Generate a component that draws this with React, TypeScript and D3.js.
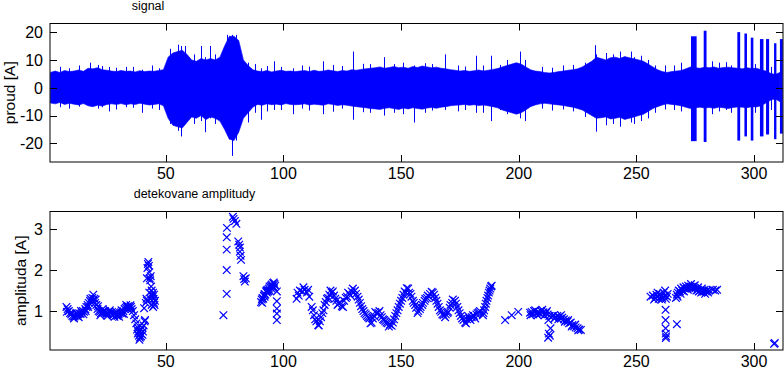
import React, { useRef, useEffect } from "react";
import * as d3 from "d3";

// ---------------------------------------------------------------------------
// DATA
// ---------------------------------------------------------------------------

// signal envelope, sampled every 2 s from t = 1 to t = 311
const sigStart = 1;
const sigStep = 2;
const sigHi = [
  5.5, 6, 5.5, 6.2, 5.8, 6, 6.4, 5.9,
  7, 6.8, 7.2, 6.5, 6.3,
  6, 5.8, 6.2, 5.9, 6, 5.7, 6.1, 5.8, 6, 5.9, 6.2, 6.5,
  11, 12.5, 13, 13.5, 12,
  10, 9.5, 10.5, 10, 10.5, 10, 11,
  15, 18.5, 18.5, 17,
  10, 8, 6.5,
  6, 5.8, 6.2, 5.7, 6, 6.3, 5.9, 6, 5.8,
  6, 6.2, 5.8, 6.3, 5.9, 6, 6.4, 6.1, 5.8, 6.2, 6, 6.5, 6.3, 6.6, 6.8, 7,
  7.2, 7.5, 7, 7.3, 7.6, 7.2, 7.4, 7, 7.6, 7.3, 7.8, 7.5, 7.2, 7.4, 7, 6.8, 6.5,
  6.3, 6, 6.2, 5.9, 6.1, 6.4, 6, 6.3, 6.6, 6.9, 7.5, 8, 8.5,
  9, 8.5, 7.5, 6.5,
  6, 5.8, 5.5, 5.3, 5.5,
  5.8, 6, 6.3, 6.5, 6.8,
  7.5, 8.5, 9.5,
  11, 10.5, 10, 10.8, 11, 10.5, 11.2, 10.8, 10.4, 10, 9.5,
  8.5, 7.5, 6.5, 5.8, 5.5,
  5.8, 6, 6.2, 6.8,
  7.5, 7.2, 7, 7.4, 7.2, 7.5, 7, 7.3, 7.4, 7.2, 7, 6.8, 7.2, 6.9, 7, 6.5, 6, 5.2, 4.8, 5.5,
];
const sigLo = [
  -5.5, -5.8, -5.3, -6, -5.6, -5.9, -6.2, -5.7,
  -6.5, -6.8, -6.3, -6.6, -6,
  -5.8, -6, -5.7, -6.1, -5.8, -6, -5.6, -5.9, -6.2, -6, -5.8, -6.5,
  -11, -13.5, -14, -14.5, -12.5,
  -10.5, -11, -10, -11.5, -10.5, -11, -12,
  -15, -18.5, -19, -16,
  -11, -9, -7,
  -6, -6.3, -5.8, -6.1, -5.9, -6.2, -5.7, -6, -6.1,
  -6, -5.8, -6.2, -5.9, -6.1, -6.3, -5.8, -6, -6.4, -6.1, -6.3, -6.6, -6.8, -7, -7.2, -7.5,
  -7.6, -7.8, -7.4, -7.2, -7.5, -7.8, -7.3, -7.6, -7.2, -7.5, -7.7, -7.3, -7.1, -7.4, -7, -6.8, -6.5,
  -6.3, -6.2, -6, -6.3, -6.1, -6.4, -6.2, -6.5, -6.8, -7.2, -8, -8.5, -9,
  -9.5, -9, -8, -6.8,
  -6.2, -5.8, -5.6, -5.8, -6,
  -6.2, -6.4, -6.7, -7, -7.5,
  -8, -9, -10,
  -11, -10.8, -10.5, -11.2, -11, -10.6, -11.4, -11, -10.5, -10, -9.5,
  -8.5, -7.5, -6.8, -6.2, -5.8,
  -6, -6.2, -6.5, -7,
  -7.5, -7.2, -7, -7.3, -7.1, -7.4, -7, -7.2, -7.5, -7.1, -6.9, -7, -7.2, -6.8, -6.9, -6.5, -5.5, -4.5, -4, -5,
];

// single spikes sticking out of the band: [t, max, min]
const spikes: [number, number, number][] = [
  [18, 9, -6.5], [26, 7.5, -8.5], [33, 7.5, -7], [40, 6.5, -9], [44, 8, -7.5],
  [52, 14, -13], [55, 15.5, -15.5], [56.3, 15, -17.5], [58, 15, -13],
  [62, 12, -13], [65, 15, -12], [66.5, 11, -16], [69, 15, -11], [71, 12, -13],
  [76, 19, -17], [78.3, 19, -24.5], [80, 19, -19], [85, 9, -12.5],
  [90.6, 7, -11.5], [96, 9.5, -8], [104, 7, -9.5], [117, 9.5, -9.5],
  [129.7, 13, -11.5], [142.9, 11, -10], [147, 8.5, -9], [155.6, 8, -12.5],
  [168.8, 12, -8], [181.7, 11.5, -9], [188.2, 11.5, -12], [195, 10, -9.5],
  [200.5, 13, -11], [202.7, 10, -12], [232.5, 15.3, -10], [233, 12, -15.8],
  [240, 12, -13], [247.6, 13, -12.5], [249, 11, -13], [258, 8, -9],
  [266, 8, -8], [285, 9, -8.5], [290, 8, -9],
];

// smaller fuzz lines along the edge of the band: [t, max, min]
const fuzz: [number, number, number][] = [
  [5, 7.5, -7], [9, 7, -7.5], [13, 8, -6.8], [21, 8.2, -7.5], [23, 7.8, -7],
  [29, 7.2, -7.8], [36, 7.5, -7.2], [47, 7, -8], [88, 8.5, -9], [93, 7.8, -8.5],
  [99, 7.5, -8], [108, 8, -7.5], [111, 7.6, -8.2], [121, 8.2, -8.6], [125, 7.8, -7.5],
  [134, 8.6, -8.8], [137, 8.5, -9], [151, 9, -9.5], [160, 8.8, -9], [163, 8.5, -8.2],
  [174, 8, -8.5], [177, 7.6, -8], [185, 8, -9], [192, 8.2, -8], [210, 7.5, -7.5],
  [214, 7.2, -8.2], [219, 8, -7.8], [223, 8.2, -8.5], [228, 9, -10.5], [237, 12.5, -13.5],
  [243, 13, -14], [252, 11.5, -12], [255, 10, -11], [262, 8, -7.8], [269, 9, -8.5],
  [282, 9.5, -9.5], [288, 9.2, -8], [300.5, 8.5, -9], [307, 7.5, -8],
];

// bursts at the end of the record: [t start, t end, max, min]
const bursts: [number, number, number, number][] = [
  [273.2, 275.6, 18.5, -19.2],
  [278.6, 279.8, 20.5, -19.5],
  [292.9, 294.1, 20, -19],
  [295.9, 297.0, 19.5, -17.5],
  [298.6, 299.7, 18, -19],
  [302.5, 304.0, 17.5, -17.5],
  [305.1, 306.4, 17.5, -16.8],
  [308.5, 309.5, 16, -18.5],
  [311.0, 312.2, 17.5, -16.5],
];

// detected amplitudes: [t, amplitude]
const ampStart: [number, number][] = [
  [7.8, 1.1], [8.3, 1.05], [8.8, 1.0], [9.3, 0.95], [9.8, 0.92], [10.3, 0.88], [10.8, 0.86],
  [11.3, 0.87], [11.8, 0.9], [12.3, 0.88], [12.8, 0.92], [13.3, 0.94], [13.8, 0.93], [14.3, 0.96],
  [14.8, 1.0], [15.3, 0.98], [15.8, 1.05], [16.3, 1.1], [16.8, 1.15], [17.3, 1.2], [17.8, 1.25],
  [18.3, 1.22], [18.8, 1.32], [19.2, 1.4], [19.6, 1.3], [20.0, 1.2], [20.5, 1.15], [21.0, 1.05],
  [21.5, 1.0], [22, 0.98], [22.5, 0.95], [23, 0.97], [23.5, 1.0], [24, 0.95], [24.5, 0.92],
  [25, 0.96], [25.5, 0.94], [26, 0.98], [26.5, 0.95], [27, 0.92], [27.5, 0.9], [28, 0.93],
  [28.5, 0.95], [29, 0.9], [29.5, 0.88], [30, 0.92], [30.5, 0.95], [31, 0.97], [31.5, 0.94],
  [32, 1.0], [32.5, 1.05], [33, 1.08], [33.5, 1.1], [34, 1.12], [34.5, 1.1], [35, 1.14],
  [35.5, 1.05], [36, 1.0], [36.5, 0.9], [37, 0.8], [37.5, 0.7], [38, 0.6], [38.3, 0.5],
  [38.6, 0.4], [39, 0.35], [39.3, 0.45], [39.6, 0.55], [40, 0.6], [40.3, 0.5], [40.6, 0.65], [41, 0.75],
  [8, 0.98], [10, 0.95], [11, 0.82], [12, 0.95], [13, 0.85], [14, 1.0], [15, 0.92], [16, 1.0],
  [17, 1.1], [18, 1.3], [19, 1.25], [20.2, 1.28], [21.2, 1.12], [22.2, 0.9], [23.2, 1.05],
  [24.2, 1.0], [25.2, 0.88], [26.2, 1.02], [27.2, 0.98], [28.2, 0.86], [29.2, 0.97], [30.2, 0.86],
  [31.2, 1.02], [32.2, 0.93], [33.2, 1.15], [34.2, 1.05], [35.2, 1.1], [38.1, 0.45], [38.8, 0.3],
  [39.5, 0.38], [40.1, 0.42], [37.8, 0.55], [39, 0.52],
  [40.8, 1.07], [41.2, 0.78], [41.5, 1.2], [41.8, 1.3], [42, 1.8], [42.2, 2.05], [42.4, 2.15],
  [42.6, 2.2], [42.8, 2.1], [43, 1.95], [43.2, 1.8], [43.4, 1.75], [43.6, 1.85], [43.8, 1.6],
  [44, 1.5], [44.2, 1.4], [44.4, 1.35], [44.6, 1.45], [44.8, 1.3], [45, 1.2], [45.2, 1.15],
  [42, 1.25], [43, 1.45], [43.5, 1.3], [44, 1.15], [45, 1.4], [45.4, 1.25], [44.6, 1.1],
];

const ampPeak: [number, number][] = [
  [74.5, 0.9], [75.9, 1.42], [75.9, 2.0], [75.9, 2.5], [75.9, 2.8], [76, 3.03],
  [78.5, 3.3], [78.8, 3.25], [79.4, 3.2], [80, 3.13], [80.8, 2.7], [81.2, 2.62],
  [81.5, 2.55], [81.5, 2.45], [81.8, 2.35], [82, 2.25], [83, 1.85], [83.3, 1.78],
  [83.6, 1.72], [84, 1.8],
  [90.5, 1.22], [90.8, 1.28], [91.1, 1.32], [91.4, 1.3], [91.7, 1.38], [92, 1.42], [92.3, 1.4],
  [92.6, 1.48], [92.9, 1.5], [93.2, 1.52], [93.5, 1.48], [93.8, 1.55], [94.1, 1.6], [94.4, 1.58],
  [94.7, 1.62], [95, 1.65], [95.3, 1.6], [95.6, 1.68], [95.9, 1.7], [96.2, 1.66], [96.5, 1.62],
  [91, 1.2], [92, 1.35], [93, 1.45], [94, 1.5], [95, 1.55], [96, 1.58],
  [97.2, 1.48], [97.2, 1.24], [97.2, 1.06], [97.2, 0.94], [97.2, 0.78],
];

const ampWave: [number, number][] = [
  [105.6, 1.3], [106, 1.45], [107, 1.5], [108, 1.48], [109, 1.52], [110, 1.45], [111, 1.35],
  [112, 1.1], [113, 0.9], [114, 0.75], [114.8, 0.66], [115.5, 0.75], [116.5, 0.95], [117.5, 1.15],
  [118.5, 1.3], [119.5, 1.4], [120.5, 1.45], [121.5, 1.38], [122.5, 1.25], [123.5, 1.18],
  [124.8, 1.12], [125.8, 1.25], [127, 1.35], [128, 1.42], [129, 1.48], [130.4, 1.5], [131.5, 1.35],
  [132.5, 1.2], [133.5, 1.05], [134.5, 0.95], [135.5, 0.88], [136.5, 0.82], [137.5, 0.72],
  [138.5, 0.88], [139.5, 0.95], [140.3, 0.96], [141.3, 0.9], [142.3, 0.8], [143.3, 0.75],
  [144.3, 0.7], [145.2, 0.67], [146, 0.64], [147, 0.8], [148, 0.95], [149, 1.1], [150, 1.25],
  [151, 1.4], [152.4, 1.56], [153.4, 1.45], [154.4, 1.35], [155.4, 1.2], [156.4, 1.08],
  [157.3, 1.0], [158.3, 1.1], [159.3, 1.2], [160.3, 1.3], [161.3, 1.38], [162.3, 1.42],
  [163, 1.47], [164, 1.4], [165, 1.25], [166, 1.1], [167, 0.98], [168, 0.9], [168.7, 0.85],
  [169.7, 0.95], [170.7, 1.08], [171.7, 1.2], [172.9, 1.25], [173.9, 1.1], [174.9, 0.95],
  [175.9, 0.82], [177.2, 0.72], [178, 0.8], [179, 0.82], [180, 0.85], [181, 0.88], [182, 0.92],
  [183, 0.97], [183.5, 1.0],
  [185, 0.95], [185.7, 1.1], [186.3, 1.25], [187, 1.38], [187.6, 1.5], [188.2, 1.6], [188.5, 1.62],
  [106.5, 1.38], [108.5, 1.58], [110.5, 1.52], [112.5, 1.02], [113.5, 0.8], [115, 0.65],
  [116, 0.85], [117, 1.02], [118, 1.22], [119, 1.32], [120, 1.5], [121, 1.48], [122, 1.3],
  [123, 1.15], [124, 1.22], [125.3, 1.1], [126.5, 1.32], [127.5, 1.45], [128.5, 1.38],
  [129.5, 1.55], [130.8, 1.42], [132, 1.28], [133, 1.12], [134, 1.0], [135, 0.92], [136, 0.85],
  [137, 0.7], [138, 0.82], [139, 0.98], [140.8, 1.0], [141.8, 0.85], [142.8, 0.78], [143.8, 0.72],
  [144.8, 0.62], [146.5, 0.72], [147.5, 0.88], [148.5, 1.02], [149.5, 1.18], [150.5, 1.32],
  [151.5, 1.48], [152, 1.45], [153, 1.55], [154, 1.42], [155, 1.25], [156, 1.15], [157, 0.95],
  [158, 1.05], [159, 1.15], [160, 1.25], [161, 1.32], [162, 1.35], [163.5, 1.45], [164.5, 1.32],
  [165.5, 1.18], [166.5, 1.02], [167.5, 0.92], [169, 0.92], [170, 0.98], [171, 1.15], [172, 1.28],
  [173.3, 1.18], [174.4, 1.02], [175.4, 0.88], [176.5, 0.78], [177.6, 0.7], [178.5, 0.88],
  [179.5, 0.78], [180.5, 0.9], [181.5, 0.82], [182.5, 0.95], [184.8, 0.9], [185.3, 1.02],
  [186, 1.18], [186.7, 1.32], [187.3, 1.45], [187.9, 1.55],
  [194.2, 0.78], [197, 0.9], [199.8, 0.98],
];

const ampLate: [number, number][] = [
  [204.8, 0.96], [205.5, 0.98], [206.5, 1.0], [207.5, 0.95], [208.5, 0.98], [209.5, 1.0],
  [210.5, 0.97], [211.5, 0.95], [212.3, 0.92], [205, 0.9], [206, 0.92], [207, 1.02], [208, 0.9],
  [209, 0.93], [210, 1.03], [211, 0.9], [212, 1.0], [213, 0.88],
  [212.6, 0.78], [213.5, 0.58], [212.8, 0.45], [212.5, 0.35], [213.2, 0.4],
  [214.3, 0.88], [215, 0.9], [215.7, 0.85], [216.4, 0.88], [217.1, 0.86], [217.8, 0.82],
  [218.5, 0.84], [219.2, 0.8], [220, 0.77], [220.7, 0.74], [221.4, 0.7], [222.1, 0.72],
  [222.8, 0.66], [223.5, 0.63], [224.2, 0.6], [225, 0.58], [225.7, 0.55], [226.4, 0.54],
  [215.2, 0.82], [216.8, 0.8], [218, 0.9], [219.6, 0.74], [221, 0.78], [222.5, 0.62],
  [224, 0.67], [225.3, 0.53],
  [256, 1.35], [257, 1.38], [258, 1.32], [258.5, 1.4], [259, 1.35], [259.5, 1.3], [260, 1.42],
  [260.5, 1.36], [261, 1.32], [261.5, 1.45], [262, 1.38], [262.5, 1.3], [263, 1.35],
  [257.5, 1.28], [259, 1.45], [260.8, 1.28], [262.2, 1.5], [263.3, 1.42],
  [262.4, 1.03], [262.4, 0.78], [262.4, 0.58], [262.5, 0.45], [262.6, 0.38], [262.5, 0.34],
  [267.2, 0.68],
  [266.8, 1.32], [267.2, 1.4], [267.6, 1.45], [268, 1.5], [268.5, 1.48], [269, 1.55],
  [269.5, 1.5], [270, 1.58], [270.5, 1.55], [271, 1.6], [271.5, 1.55], [272, 1.62],
  [272.5, 1.58], [273, 1.6], [273.5, 1.55], [274, 1.6], [274.5, 1.57], [275, 1.55],
  [275.5, 1.5], [276, 1.52], [276.5, 1.48], [277, 1.5], [277.5, 1.45], [278, 1.5],
  [278.5, 1.47], [279, 1.52], [279.5, 1.48], [280, 1.5], [281, 1.5], [282.5, 1.52],
  [283.5, 1.5], [284.3, 1.52], [267.5, 1.35], [268.8, 1.42], [270.2, 1.48], [271.8, 1.52],
  [273.2, 1.66], [274.8, 1.63], [276.2, 1.58], [277.8, 1.55], [279.2, 1.42], [280.5, 1.45],
  [308.5, 0.2], [308.8, 0.22],
];

const xTicks = [50, 100, 150, 200, 250, 300];
const sigTicks = [-20, -10, 0, 10, 20];
const ampTicks = [1, 2, 3];

// ---------------------------------------------------------------------------

const W = 784;
const H = 369;
const FONT = "'Liberation Sans', Arial, Helvetica, sans-serif";
const BLUE = "#0000ff";

export default function App() {
  const svgRef = useRef<SVGSVGElement | null>(null);

  useEffect(() => {
    const svg = d3.select(svgRef.current);
    svg.selectAll("*").remove();

    const left = 50;
    const right = 783;
    const tickLen = 7;

    const x = d3.scaleLinear().domain([0.8, 312.3]).range([left, right]);

    const drawFrame = (
      g: d3.Selection<SVGGElement, unknown, null, undefined>,
      y: d3.ScaleLinear<number, number>,
      yTicks: number[],
      top: number,
      bottom: number
    ) => {
      const frame = g.append("g").attr("stroke", "#000").attr("stroke-width", 1);
      frame
        .append("rect")
        .attr("x", left)
        .attr("y", top)
        .attr("width", right - left)
        .attr("height", bottom - top)
        .attr("fill", "none");
      xTicks.forEach((t) => {
        const px = Math.round(x(t)) + 0.5;
        frame.append("line").attr("x1", px).attr("x2", px).attr("y1", bottom).attr("y2", bottom - tickLen);
        frame.append("line").attr("x1", px).attr("x2", px).attr("y1", top).attr("y2", top + tickLen);
      });
      yTicks.forEach((t) => {
        const py = Math.round(y(t)) + 0.5;
        frame.append("line").attr("x1", left).attr("x2", left + tickLen).attr("y1", py).attr("y2", py);
        frame.append("line").attr("x1", right).attr("x2", right - tickLen).attr("y1", py).attr("y2", py);
      });
      const labels = g.append("g").attr("font-family", FONT).attr("font-size", 16).attr("fill", "#000");
      xTicks.forEach((t) => {
        labels
          .append("text")
          .attr("x", x(t))
          .attr("y", bottom + 16.5)
          .attr("text-anchor", "middle")
          .text(t);
      });
      yTicks.forEach((t) => {
        labels
          .append("text")
          .attr("x", left - 7)
          .attr("y", y(t))
          .attr("dy", "0.36em")
          .attr("text-anchor", "end")
          .text(t);
      });
    };

    // -------------------------------------------------------------------------
    // TOP: signal
    // -------------------------------------------------------------------------
    const top1 = 23.5;
    const bot1 = 162;
    const y1 = d3.scaleLinear().domain([-26.7, 23.1]).range([bot1, top1]);

    svg
      .append("defs")
      .append("clipPath")
      .attr("id", "clipTop")
      .append("rect")
      .attr("x", left)
      .attr("y", top1)
      .attr("width", right - left)
      .attr("height", bot1 - top1);

    const gTop = svg.append("g");
    const plot1 = gTop.append("g").attr("clip-path", "url(#clipTop)");

    const sigT = sigHi.map((_, i) => sigStart + i * sigStep);
    const area = d3
      .area<number>()
      .x((_, i) => x(sigT[i]))
      .y0((_, i) => y1(sigLo[i]))
      .y1((d) => y1(d));
    plot1.append("path").datum(sigHi).attr("fill", BLUE).attr("stroke", BLUE).attr("stroke-width", 0.6).attr("d", area);

    plot1
      .selectAll("line.spike")
      .data([...spikes, ...fuzz])
      .join("line")
      .attr("class", "spike")
      .attr("x1", (d) => Math.round(x(d[0])) + 0.5)
      .attr("x2", (d) => Math.round(x(d[0])) + 0.5)
      .attr("y1", (d) => y1(d[1]))
      .attr("y2", (d) => y1(d[2]))
      .attr("stroke", BLUE)
      .attr("stroke-width", 1);

    plot1
      .selectAll("rect.burst")
      .data(bursts)
      .join("rect")
      .attr("class", "burst")
      .attr("x", (d) => x(d[0]))
      .attr("width", (d) => x(d[1]) - x(d[0]))
      .attr("y", (d) => y1(d[2]))
      .attr("height", (d) => y1(d[3]) - y1(d[2]))
      .attr("fill", BLUE);

    drawFrame(gTop, y1, sigTicks, top1, bot1);

    gTop
      .append("text")
      .attr("x", 148)
      .attr("y", 10)
      .attr("text-anchor", "middle")
      .attr("font-family", FONT)
      .attr("font-size", 12.5)
      .text("signal");

    gTop
      .append("text")
      .attr("transform", `translate(15, ${(top1 + bot1) / 2}) rotate(-90)`)
      .attr("text-anchor", "middle")
      .attr("font-family", FONT)
      .attr("font-size", 15.5)
      .text("proud [A]");

    // -------------------------------------------------------------------------
    // BOTTOM: detected amplitudes
    // -------------------------------------------------------------------------
    const top2 = 211.5;
    const bot2 = 350;
    const y2 = d3.scaleLinear().domain([0.05, 3.43]).range([bot2, top2]);

    const gBot = svg.append("g");
    const allAmp = [...ampStart, ...ampPeak, ...ampWave, ...ampLate];
    const m = 3.8;
    gBot
      .append("g")
      .selectAll("path")
      .data(allAmp)
      .join("path")
      .attr("transform", (d) => `translate(${x(d[0])},${y2(d[1])})`)
      .attr("d", `M${-m},${-m}L${m},${m}M${-m},${m}L${m},${-m}`)
      .attr("stroke", BLUE)
      .attr("stroke-width", 1.2)
      .attr("fill", "none");

    drawFrame(gBot, y2, ampTicks, top2, bot2);

    gBot
      .append("text")
      .attr("x", 194.5)
      .attr("y", 198)
      .attr("text-anchor", "middle")
      .attr("font-family", FONT)
      .attr("font-size", 12.5)
      .text("detekovane amplitudy");

    gBot
      .append("text")
      .attr("transform", `translate(26, ${(top2 + bot2) / 2}) rotate(-90)`)
      .attr("text-anchor", "middle")
      .attr("font-family", FONT)
      .attr("font-size", 15.5)
      .text("amplituda [A]");
  }, []);

  return (
    <svg
      ref={svgRef}
      width={W}
      height={H}
      style={{ position: "absolute", left: 0, top: 0, background: "#fff" }}
    />
  );
}
